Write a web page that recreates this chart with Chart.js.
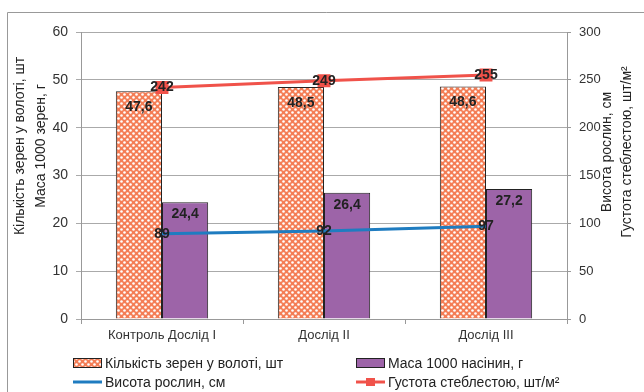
<!DOCTYPE html>
<html>
<head>
<meta charset="utf-8">
<script src="https://cdn.jsdelivr.net/npm/chart.js@4"></script>
<style>
  html, body { margin: 0; padding: 0; background: #fff; }
  canvas { display: block; }
</style>
</head>
<body>
<canvas id="chart" width="644" height="392"></canvas>
<script>
// chart data
const categories = ['Контроль Дослід I', 'Дослід II', 'Дослід III'];
const grainCount = [47.6, 48.5, 48.6];     // Кількість зерен у волоті, шт
const seedMass = [24.4, 26.4, 27.2];       // Маса 1000 насінин, г
const plantHeight = [89, 92, 97];          // Висота рослин, см
const stemDensity = [242, 249, 255];       // Густота стеблестою, шт/м²
const leftTitle = ['Кількість зерен у волоті, шт', 'Маса 1000 зерен, г'];
const rightTitle = ['Висота рослин, см', 'Густота стеблестою, шт/м²'];

const FONT = '"Liberation Sans", Arial, sans-serif';

// orange cross-hatch fill for the first bar series
function makePattern() {
    const c = document.createElement('canvas');
    c.width = 6; c.height = 6;
    const g = c.getContext('2d');
    g.fillStyle = '#f47d55';
    g.fillRect(0, 0, 6, 6);
    g.fillStyle = '#ffffff';
    g.beginPath(); g.arc(1.5, 1.5, 1.3, 0, Math.PI * 2); g.fill();
    g.beginPath(); g.arc(4.5, 4.5, 1.3, 0, Math.PI * 2); g.fill();
    return g.createPattern(c, 'repeat');
}
const orangeFill = makePattern();

const fmt = v => String(v).replace('.', ',');

// value labels on bars and points
const valueLabels = {
    id: 'valueLabels',
    afterDatasetsDraw(chart) {
        const ctx = chart.ctx;
        ctx.save();
        ctx.font = 'bold 14px ' + FONT;
        ctx.fillStyle = '#222';
        ctx.textAlign = 'center';
        ctx.textBaseline = 'middle';
        chart.data.datasets.forEach((ds, i) => {
            const meta = chart.getDatasetMeta(i);
            meta.data.forEach((el, j) => {
                let dy = 0;
                if (ds.type === 'bar') dy = i === 0 ? 16 : 12;
                ctx.fillText(fmt(ds.data[j]), el.x, el.y + dy);
            });
        });
        ctx.restore();
    }
};

// outer frame, axis titles and legend
const decorations = {
    id: 'decorations',
    beforeDraw(chart) {
        const ctx = chart.ctx;
        ctx.save();
        ctx.strokeStyle = '#999';
        ctx.lineWidth = 1;
        ctx.beginPath();
        ctx.moveTo(7.5, 400);
        ctx.lineTo(7.5, 12.5);
        ctx.lineTo(650, 12.5);
        ctx.stroke();
        ctx.restore();
    },
    afterDraw(chart) {
        const ctx = chart.ctx;
        ctx.save();
        ctx.fillStyle = '#222';
        ctx.font = '14px ' + FONT;
        ctx.textAlign = 'center';
        ctx.textBaseline = 'middle';
        // left title
        [[20, leftTitle[0]], [41, leftTitle[1]]].forEach(([x, t]) => {
            ctx.save(); ctx.translate(x, 146); ctx.rotate(-Math.PI / 2); ctx.fillText(t, 0, 0); ctx.restore();
        });
        // right title
        [[607, rightTitle[0]], [627, rightTitle[1]]].forEach(([x, t]) => {
            ctx.save(); ctx.translate(x, 152); ctx.rotate(-Math.PI / 2); ctx.fillText(t, 0, 0); ctx.restore();
        });

        // legend
        const ds = chart.data.datasets;
        ctx.textAlign = 'left';
        ctx.font = '14px ' + FONT;
        const items = [
            { x: 73, y: 363, d: ds[0] },
            { x: 356, y: 363, d: ds[1] },
            { x: 73, y: 382, d: ds[2] },
            { x: 356, y: 382, d: ds[3] }
        ];
        items.forEach(it => {
            const d = it.d;
            if (d.type === 'bar') {
                ctx.fillStyle = d.backgroundColor;
                ctx.fillRect(it.x, it.y - 5, 29, 10);
                ctx.strokeStyle = '#222';
                ctx.lineWidth = 1;
                ctx.strokeRect(it.x + 0.5, it.y - 4.5, 28, 9);
            } else {
                ctx.strokeStyle = d.borderColor;
                ctx.lineWidth = 3;
                ctx.beginPath();
                ctx.moveTo(it.x, it.y);
                ctx.lineTo(it.x + 29, it.y);
                ctx.stroke();
                if (d.pointRadius > 0) {
                    ctx.fillStyle = d.borderColor;
                    ctx.fillRect(it.x + 10, it.y - 4, 9, 8);
                }
            }
            ctx.fillStyle = '#222';
            ctx.fillText(d.label, it.x + 32, it.y + 1);
        });
        ctx.restore();
    }
};

new Chart(document.getElementById('chart'), {
    data: {
        labels: categories,
        datasets: [
            {
                type: 'bar',
                label: 'Кількість зерен у волоті, шт',
                data: grainCount,
                backgroundColor: orangeFill,
                borderColor: '#222',
                borderWidth: 1,
                yAxisID: 'y',
                order: 2,
                categoryPercentage: 0.57,
                barPercentage: 1.0
            },
            {
                type: 'bar',
                label: 'Маса 1000 насінин, г',
                data: seedMass,
                backgroundColor: '#9d64a8',
                borderColor: '#222',
                borderWidth: 1,
                yAxisID: 'y',
                order: 2,
                categoryPercentage: 0.57,
                barPercentage: 1.0
            },
            {
                type: 'line',
                label: 'Висота рослин, см',
                data: plantHeight,
                borderColor: '#1f7cc0',
                borderWidth: 3,
                pointRadius: 0,
                yAxisID: 'y1',
                order: 1
            },
            {
                type: 'line',
                label: 'Густота стеблестою, шт/м²',
                data: stemDensity,
                borderColor: '#f0524a',
                backgroundColor: '#f0524a',
                borderWidth: 3,
                pointStyle: 'rect',
                pointRadius: 7,
                yAxisID: 'y1',
                order: 1
            }
        ]
    },
    options: {
        responsive: false,
        animation: false,
        layout: { padding: { top: 32, left: 0, right: 0, bottom: 0 } },
        plugins: {
            legend: { display: false },
            tooltip: { enabled: false }
        },
        scales: {
            x: {
                offset: true,
                grid: { drawOnChartArea: false, drawTicks: true, tickLength: 5, offset: true, color: '#999' },
                border: { color: '#999' },
                ticks: { color: '#333', font: { family: FONT, size: 13 }, padding: 4 },
                afterFit(s) { s.height = 73; }
            },
            y: {
                position: 'left',
                min: 0, max: 60,
                ticks: { stepSize: 10, color: '#333', font: { family: FONT, size: 14 }, padding: 8 },
                grid: { color: '#aaa', tickLength: 5 },
                border: { color: '#999' },
                afterFit(s) { s.width = 81; }
            },
            y1: {
                position: 'right',
                min: 0, max: 300,
                ticks: { stepSize: 50, color: '#333', font: { family: FONT, size: 13 }, padding: 8 },
                grid: { drawOnChartArea: false, color: '#999', tickLength: 4 },
                border: { color: '#999' },
                afterFit(s) { s.width = 77; }
            }
        }
    },
    plugins: [valueLabels, decorations]
});
</script>
</body>
</html>
